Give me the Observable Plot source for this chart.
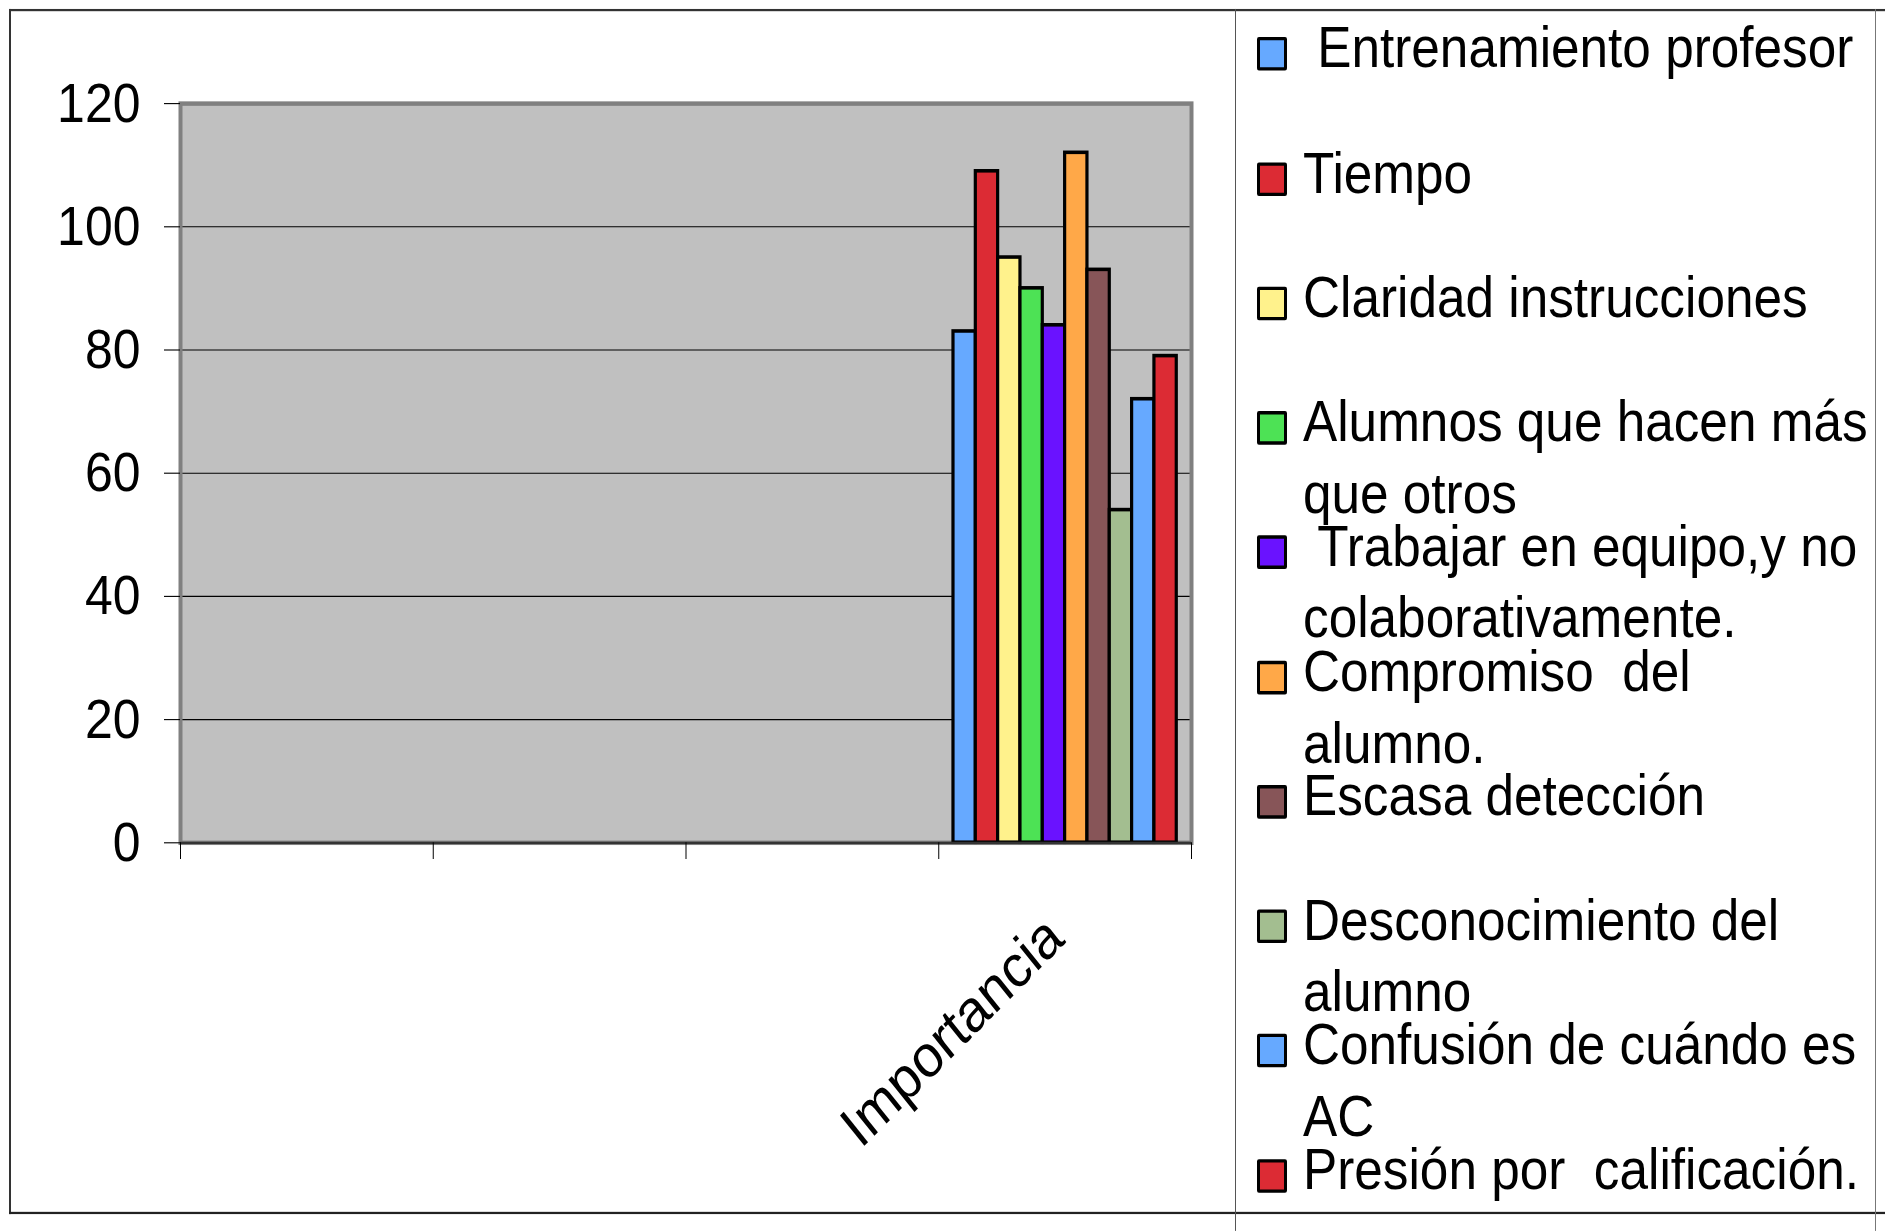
<!DOCTYPE html>
<html>
<head>
<meta charset="utf-8">
<script src="https://cdn.jsdelivr.net/npm/d3@7"></script>
<script src="https://cdn.jsdelivr.net/npm/@observablehq/plot@0.6"></script>
<style>
  html, body { margin: 0; padding: 0; background: #fff; overflow: hidden; }
  #stage { position: absolute; left: 0; top: 0; width: 1885px; height: 1099px;
           transform: scaleY(1.12); transform-origin: 0 0;
           font-family: "Liberation Sans", Arial, sans-serif; color: #000; }
  .rule { position: absolute; }
  #chart { position: absolute; left: 0; top: 0; }
  .item { position: absolute; left: 1257px; width: 620px; font-size: 51.3px; line-height: 64px; }
  .swatch { position: absolute; left: 0; top: 22px; width: 24px; height: 24px; border: 3px solid #000; border-radius: 2px; }
  .txt { position: absolute; left: 46px; top: 0; width: 578px; white-space: pre-wrap; }
</style>
</head>
<body>
<div id="stage">
  <div class="rule" style="left:9px;top:8px;width:1876px;height:2px;background:#333"></div>
  <div class="rule" style="left:9px;top:8px;width:2px;height:1076px;background:#333"></div>
  <div class="rule" style="left:9px;top:1082px;width:1876px;height:1.5px;background:#222"></div>
  <div class="rule" style="left:1234.5px;top:8px;width:1.5px;height:1091px;background:#555"></div>
  <div class="rule" style="left:1874.5px;top:8px;width:1.5px;height:1091px;background:#777"></div>
  <div id="chart"></div>
  <div id="legend"></div>
</div>
<script>
// ---- data ----
const categories = ["", "", "", "Importancia"];
const seriesCategory = "Importancia";
const series = [
  " Entrenamiento profesor",
  "Tiempo",
  "Claridad instrucciones",
  "Alumnos que hacen más que otros",
  " Trabajar en equipo,y no colaborativamente.",
  "Compromiso  del alumno.",
  "Escasa detección",
  "Desconocimiento del alumno",
  "Confusión de cuándo es AC",
  "Presión por  calificación."
];
const values = [83, 109, 95, 90, 84, 112, 93, 54, 72, 79];
const colors = ["#66a9ff", "#dc2b34", "#fff28c", "#4de255", "#6a12ff", "#ffa848", "#875558", "#a3be90", "#66a9ff", "#dc2b34"];
const yTicks = [0, 20, 40, 60, 80, 100, 120];

// ---- layout ----
const W = 1235, H = 1099;
const ci = categories.indexOf(seriesCategory);
const band = d3.scaleBand().domain(series).range([ci, ci + 1]).paddingInner(0).paddingOuter(0.66);
const rows = series.map((s, i) => ({
  series: s, value: values[i], color: colors[i],
  x1: band(s), x2: band(s) + band.bandwidth()
}));
const boundaries = d3.range(categories.length + 1);
const centers = categories.map((c, i) => i + 0.5);

const chart = Plot.plot({
  width: W,
  height: H,
  marginLeft: 180,
  marginRight: 44,
  marginTop: 92,
  marginBottom: H - 752,
  style: { fontFamily: '"Liberation Sans", Arial, sans-serif', fontSize: "50px", background: "transparent", color: "#000", overflow: "visible" },
  x: { type: "linear", domain: [0, categories.length] },
  y: { domain: [0, 120] },
  marks: [
    Plot.frame({ fill: "#c0c0c0" }),
    Plot.gridY(yTicks, { stroke: "#000", strokeOpacity: 1, strokeWidth: 1 }),
    Plot.frame({ stroke: "#808080", strokeWidth: 4 }),
    Plot.rectY(rows, { x1: "x1", x2: "x2", y: "value", fill: "color", stroke: "#000", strokeWidth: 3.2 }),
    Plot.ruleY([0], { stroke: "#333", strokeWidth: 2 }),
    Plot.axisY(yTicks, { tickSize: 16, tickPadding: 24, fontSize: 50, stroke: "#000", label: null, tickFormat: d => String(d) }),
    Plot.axisX(boundaries, { tickSize: 15, tickFormat: () => "", stroke: "#000", label: null }),
    Plot.axisX(centers, { tickSize: 0, tickPadding: 76, dx: -10, tickRotate: -42, fontSize: 53, label: null,
      tickFormat: d => categories[Math.floor(d)] })
  ]
});
document.getElementById("chart").appendChild(chart);

// ---- legend ----
const legend = document.getElementById("legend");
series.forEach((s, i) => {
  const item = document.createElement("div");
  item.className = "item";
  item.style.top = (11.4 + i * 111.25) + "px";
  const sw = document.createElement("div");
  sw.className = "swatch";
  sw.style.background = colors[i];
  const t = document.createElement("div");
  t.className = "txt";
  t.textContent = s;
  item.appendChild(sw);
  item.appendChild(t);
  legend.appendChild(item);
});
</script>
</body>
</html>
